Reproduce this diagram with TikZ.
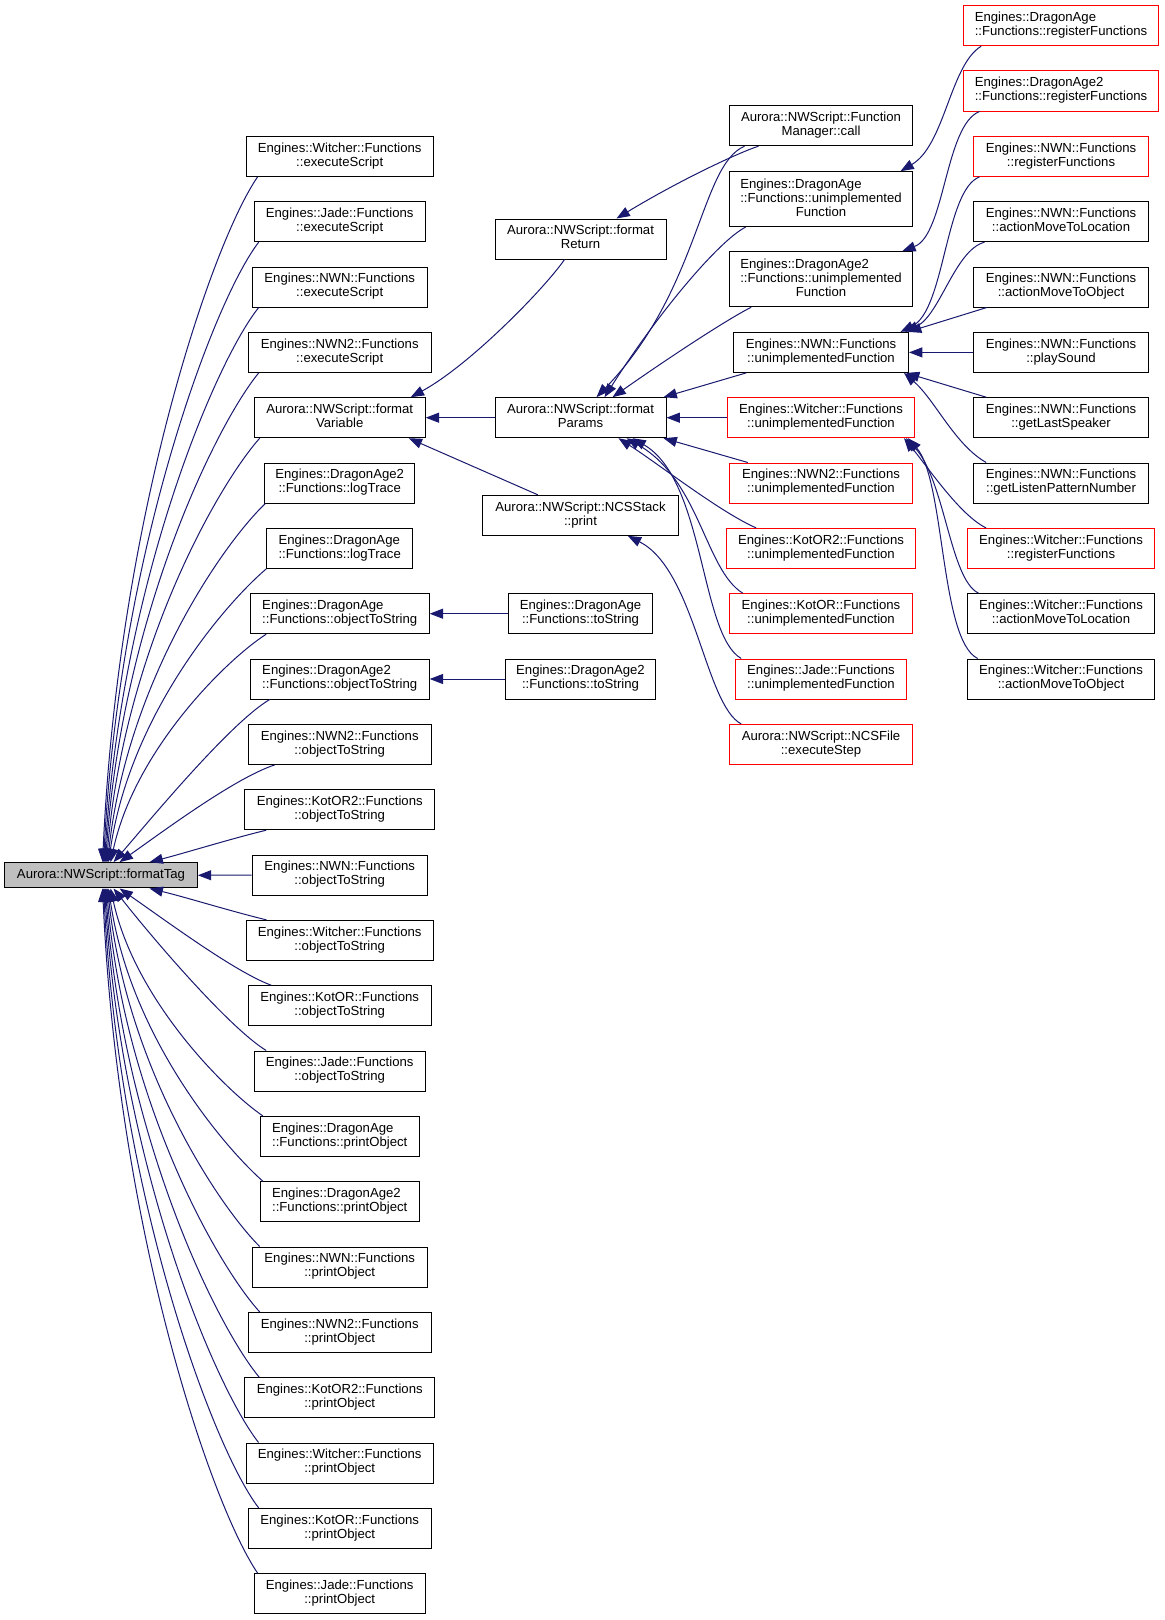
\documentclass[tikz,border=0pt]{standalone}
\usepackage{fontspec}
\setmainfont{Liberation Sans}
\usetikzlibrary{arrows.meta,calc}
\definecolor{edgeblue}{RGB}{25,25,112}
\definecolor{tagfill}{RGB}{191,191,191}
\newcommand\twol[2]{\begin{tabular}{@{}l@{}}#1\\\multicolumn{1}{@{}c@{}}{#2}\end{tabular}}
\newcommand\threel[3]{\begin{tabular}{@{}l@{}}#1\\#2\\\multicolumn{1}{@{}c@{}}{#3}\end{tabular}}
\begin{document}
\begin{tikzpicture}[x=0.75pt,y=-0.75pt,
  every node/.style={font=\fontsize{9.86}{10.5}\selectfont},
  box/.style={draw=black, line width=0.75pt, rectangle, inner sep=0pt, minimum height=30pt, fill=white},
  redbox/.style={box, draw=red},
  bw/.style={minimum width={#1*0.75pt}},
  tall/.style={minimum height=41.25pt},
  edge/.style={draw=edgeblue, line width=0.75pt, -{Triangle[length=10pt,width=7.5pt]}},
  ]
\fill[white] (0,0) rectangle (1164,1620);
\useasboundingbox (0,0) rectangle (1164,1620);

% ---- root
\node[box, fill=tagfill, bw=192.7, minimum height=19pt] (tag) at (101,875.3) {Aurora::NWScript::formatTag};

% ---- column 1
\node[box,bw=187.3] (wexec) at (339.7,156.4) {\twol{Engines::Witcher::Functions}{::executeScript}};
\node[box,bw=171] (jexec) at (339.7,221.7) {\twol{Engines::Jade::Functions}{::executeScript}};
\node[box,bw=175] (nexec) at (339.7,287.0) {\twol{Engines::NWN::Functions}{::executeScript}};
\node[box,bw=183] (n2exec) at (339.7,352.4) {\twol{Engines::NWN2::Functions}{::executeScript}};
\node[box,bw=171] (fvar) at (339.7,417.7) {\twol{Aurora::NWScript::format}{Variable}};
\node[box,bw=149.7] (da2log) at (339.7,483.0) {\twol{Engines::DragonAge2}{::Functions::logTrace}};
\node[box,bw=146] (dalog) at (339.7,548.4) {\twol{Engines::DragonAge}{::Functions::logTrace}};
\node[box,bw=179] (daots) at (339.7,613.7) {\twol{Engines::DragonAge}{::Functions::objectToString}};
\node[box,bw=179] (da2ots) at (339.7,679.0) {\twol{Engines::DragonAge2}{::Functions::objectToString}};
\node[box,bw=183] (n2ots) at (339.7,744.4) {\twol{Engines::NWN2::Functions}{::objectToString}};
\node[box,bw=190] (k2ots) at (339.7,809.7) {\twol{Engines::KotOR2::Functions}{::objectToString}};
\node[box,bw=175] (nots) at (339.7,875.0) {\twol{Engines::NWN::Functions}{::objectToString}};
\node[box,bw=187.3] (wots) at (339.7,940.4) {\twol{Engines::Witcher::Functions}{::objectToString}};
\node[box,bw=183] (kots) at (339.7,1005.7) {\twol{Engines::KotOR::Functions}{::objectToString}};
\node[box,bw=171] (jots) at (339.7,1071.0) {\twol{Engines::Jade::Functions}{::objectToString}};
\node[box,bw=158.7] (dapo) at (339.7,1136.4) {\twol{Engines::DragonAge}{::Functions::printObject}};
\node[box,bw=158.7] (da2po) at (339.7,1201.7) {\twol{Engines::DragonAge2}{::Functions::printObject}};
\node[box,bw=175] (npo) at (339.7,1267.0) {\twol{Engines::NWN::Functions}{::printObject}};
\node[box,bw=183] (n2po) at (339.7,1332.4) {\twol{Engines::NWN2::Functions}{::printObject}};
\node[box,bw=190] (k2po) at (339.7,1397.7) {\twol{Engines::KotOR2::Functions}{::printObject}};
\node[box,bw=187.3] (wpo) at (339.7,1463.0) {\twol{Engines::Witcher::Functions}{::printObject}};
\node[box,bw=183] (kpo) at (339.7,1528.4) {\twol{Engines::KotOR::Functions}{::printObject}};
\node[box,bw=171] (jpo) at (339.7,1593.7) {\twol{Engines::Jade::Functions}{::printObject}};

% ---- column 2
\node[box,bw=171] (fret) at (580.5,239.0) {\twol{Aurora::NWScript::format}{Return}};
\node[box,bw=171] (fpar) at (580.5,417.7) {\twol{Aurora::NWScript::format}{Params}};
\node[box,bw=196.4] (ncsp) at (580.5,515.3) {\twol{Aurora::NWScript::NCSStack}{::print}};
\node[box,bw=143.3] (dats) at (580.5,613.7) {\twol{Engines::DragonAge}{::Functions::toString}};
\node[box,bw=149.6] (da2ts) at (580.5,679.0) {\twol{Engines::DragonAge2}{::Functions::toString}};

% ---- column 3
\node[box,bw=183.4] (fmc) at (821,125.7) {\twol{Aurora::NWScript::Function}{Manager::call}};
\node[box,tall,bw=183.4] (daun) at (821,199.2) {\threel{Engines::DragonAge}{::Functions::unimplemented}{Function}};
\node[box,tall,bw=183.4] (da2un) at (821,279.2) {\threel{Engines::DragonAge2}{::Functions::unimplemented}{Function}};
\node[box,bw=175] (nun) at (821,352.4) {\twol{Engines::NWN::Functions}{::unimplementedFunction}};
\node[redbox,bw=187] (wun) at (821,417.7) {\twol{Engines::Witcher::Functions}{::unimplementedFunction}};
\node[redbox,bw=183.4] (n2un) at (821,483.0) {\twol{Engines::NWN2::Functions}{::unimplementedFunction}};
\node[redbox,bw=189.7] (k2un) at (821,548.4) {\twol{Engines::KotOR2::Functions}{::unimplementedFunction}};
\node[redbox,bw=183.4] (kun) at (821,613.7) {\twol{Engines::KotOR::Functions}{::unimplementedFunction}};
\node[redbox,bw=171.4] (jun) at (821,679.0) {\twol{Engines::Jade::Functions}{::unimplementedFunction}};
\node[redbox,bw=183.4] (ncsf) at (821,744.4) {\twol{Aurora::NWScript::NCSFile}{::executeStep}};

% ---- column 4
\node[redbox,bw=195.4] (dareg) at (1061,25.7) {\twol{Engines::DragonAge}{::Functions::registerFunctions}};
\node[redbox,bw=195.4] (da2reg) at (1061,91.0) {\twol{Engines::DragonAge2}{::Functions::registerFunctions}};
\node[redbox,bw=175.4] (nreg) at (1061,156.4) {\twol{Engines::NWN::Functions}{::registerFunctions}};
\node[box,bw=175.4] (namtl) at (1061,221.7) {\twol{Engines::NWN::Functions}{::actionMoveToLocation}};
\node[box,bw=175.4] (namto) at (1061,287.0) {\twol{Engines::NWN::Functions}{::actionMoveToObject}};
\node[box,bw=175.4] (nps) at (1061,352.4) {\twol{Engines::NWN::Functions}{::playSound}};
\node[box,bw=175] (nls) at (1061,417.7) {\twol{Engines::NWN::Functions}{::getLastSpeaker}};
\node[box,bw=175] (nlpn) at (1061,483.0) {\twol{Engines::NWN::Functions}{::getListenPatternNumber}};
\node[redbox,bw=187.7] (wreg) at (1061,548.4) {\twol{Engines::Witcher::Functions}{::registerFunctions}};
\node[box,bw=187.7] (wamtl) at (1061,613.7) {\twol{Engines::Witcher::Functions}{::actionMoveToLocation}};
\node[box,bw=187.7] (wamto) at (1061,679.0) {\twol{Engines::Witcher::Functions}{::actionMoveToObject}};

% ---- edges into formatTag (from above)
\draw[edge] ($(wexec.south west)+(12,0)$) .. controls (211,245) and (118,520) .. ($(tag.north west)+(98.4,0)$);
\draw[edge] ($(jexec.south west)+(5,0)$) .. controls (214,300) and (119,552) .. ($(tag.north west)+(99.4,0)$);
\draw[edge] ($(nexec.south west)+(7,0)$) .. controls (215,362) and (121,585) .. ($(tag.north west)+(100.4,0)$);
\draw[edge] ($(n2exec.south west)+(11,0)$) .. controls (216,425) and (122,617) .. ($(tag.north west)+(101.4,0)$);
\draw[edge] ($(fvar.south west)+(6,0)$) .. controls (218,485) and (124,650) .. ($(tag.north west)+(102.4,0)$);
\draw[edge] ($(da2log.south west)+(1,0)$) .. controls (222,545) and (127,683) .. ($(tag.north west)+(103.4,0)$);
\draw[edge] (dalog.south west) .. controls (224,605) and (130,715) .. ($(tag.north west)+(104.4,0)$);
\draw[edge] ($(daots.south west)+(16.5,0)$) .. controls (226,660) and (135,750) .. ($(tag.north west)+(106.4,0)$);
\draw[edge] ($(da2ots.south west)+(20,0)$) .. controls (230,723) and (150,820) .. ($(tag.north west)+(109.4,0)$);
\draw[edge] ($(n2ots.south west)+(27,0)$) .. controls (235,778) and (165,830) .. ($(tag.north west)+(115.4,0)$);
\draw[edge] ($(k2ots.south west)+(22,0)$) .. controls (230,839) and (185,853) .. ($(tag.north west)+(145.4,0)$);
% ---- horizontal
\draw[edge] (nots.west) -- (tag.east);
% ---- from below
\draw[edge] ($(wots.north west)+(21,0)$) .. controls (230,911) and (185,897) .. ($(tag.south west)+(145.4,0)$);
\draw[edge] ($(kots.north west)+(23.5,0)$) .. controls (235,972) and (165,920) .. ($(tag.south west)+(115.4,0)$);
\draw[edge] ($(jots.north west)+(12.5,0)$) .. controls (228,1027) and (150,935) .. ($(tag.south west)+(109.4,0)$);
\draw[edge] ($(dapo.north west)+(3,0)$) .. controls (225,1090) and (135,1000) .. ($(tag.south west)+(106.4,0)$);
\draw[edge] ($(da2po.north west)+(3,0)$) .. controls (222,1145) and (130,1035) .. ($(tag.south west)+(104.4,0)$);
\draw[edge] ($(npo.north west)+(8,0)$) .. controls (218,1205) and (127,1067) .. ($(tag.south west)+(103.4,0)$);
\draw[edge] ($(n2po.north west)+(12,0)$) .. controls (217,1265) and (124,1100) .. ($(tag.south west)+(102.4,0)$);
\draw[edge] ($(k2po.north west)+(15,0)$) .. controls (216,1325) and (122,1133) .. ($(tag.south west)+(101.4,0)$);
\draw[edge] ($(wpo.north west)+(13,0)$) .. controls (215,1387) and (121,1165) .. ($(tag.south west)+(100.4,0)$);
\draw[edge] ($(kpo.north west)+(11,0)$) .. controls (214,1450) and (119,1198) .. ($(tag.south west)+(99.4,0)$);
\draw[edge] ($(jpo.north west)+(4,0)$) .. controls (211,1505) and (118,1231) .. ($(tag.south west)+(98.4,0)$);

% ---- into formatVariable
\draw[edge] ($(fret.south west)+(70,0)$) .. controls (545,288) and (470,365) .. ($(fvar.north east)+(-15,0)$);
\draw[edge] (fpar.west) -- (fvar.east);
\draw[edge] ($(ncsp.north west)+(56,0)$) -- ($(fvar.south east)+(-17,0)$);
% ---- toString
\draw[edge] (dats.west) -- (daots.east);
\draw[edge] (da2ts.west) -- (da2ots.east);

% ---- into formatReturn / formatParams / NCSStack
\draw[edge] ($(fmc.south west)+(29.7,0)$) .. controls (740,152) and (680,180) .. ($(fret.north west)+(122,0)$);
\draw[edge] ($(fmc.south west)+(15.7,0)$) .. controls (700,165) and (700,290) .. ($(fpar.north west)+(102,0)$);
\draw[edge] ($(daun.south west)+(16.7,0)$) .. controls (720,240) and (660,310) .. ($(fpar.north west)+(110,0)$);
\draw[edge] ($(da2un.south west)+(22.4,0)$) .. controls (730,318) and (680,350) .. ($(fpar.north west)+(118,0)$);
\draw[edge] ($(nun.south west)+(13.2,0)$) -- ($(fpar.north east)+(-3,0)$);
\draw[edge] (wun.west) -- (fpar.east);
\draw[edge] ($(n2un.north west)+(19,0)$) -- ($(fpar.south east)+(-3,0)$);
\draw[edge] ($(k2un.north west)+(30.5,0)$) .. controls (720,512) and (660,465) .. ($(fpar.south west)+(124,0)$);
\draw[edge] ($(kun.north west)+(14,0)$) .. controls (705,570) and (700,480) .. ($(fpar.south west)+(132,0)$);
\draw[edge] ($(jun.north west)+(6.4,0)$) .. controls (700,635) and (705,480) .. ($(fpar.south west)+(138,0)$);
\draw[edge] ($(ncsf.north west)+(12.4,0)$) .. controls (705,705) and (695,570) .. ($(ncsp.south west)+(146,0)$);

% ---- right column into column 3
\draw[edge] ($(dareg.south west)+(18.4,0)$) .. controls (950,65) and (945,145) .. ($(daun.north east)+(-12.7,0)$);
\draw[edge] ($(da2reg.south west)+(16.7,0)$) .. controls (945,125) and (945,235) .. ($(da2un.north east)+(-11,0)$);
\draw[edge] ($(nreg.south west)+(6.7,0)$) .. controls (945,190) and (945,310) .. ($(nun.north east)+(-8.5,0)$);
\draw[edge] ($(namtl.south west)+(11.7,0)$) .. controls (955,250) and (940,315) .. ($(nun.north east)+(-4,0)$);
\draw[edge] ($(namto.south west)+(14,0)$) -- ($(nun.north east)+(-1,0)$);
\draw[edge] (nps.west) -- (nun.east);
\draw[edge] ($(nls.north west)+(13.2,0)$) -- ($(nun.south east)+(-3,0)$);
\draw[edge] ($(nlpn.north west)+(13.2,0)$) .. controls (955,445) and (935,400) .. ($(nun.south east)+(-5,0)$);
\draw[edge] ($(wreg.north west)+(19.4,0)$) .. controls (960,515) and (930,470) .. ($(wun.south east)+(-11,0)$);
\draw[edge] ($(wamtl.north west)+(12,0)$) .. controls (950,580) and (945,480) .. ($(wun.south east)+(-9,0)$);
\draw[edge] ($(wamto.north west)+(11,0)$) .. controls (940,640) and (945,480) .. ($(wun.south east)+(-7,0)$);
\end{tikzpicture}
\end{document}
